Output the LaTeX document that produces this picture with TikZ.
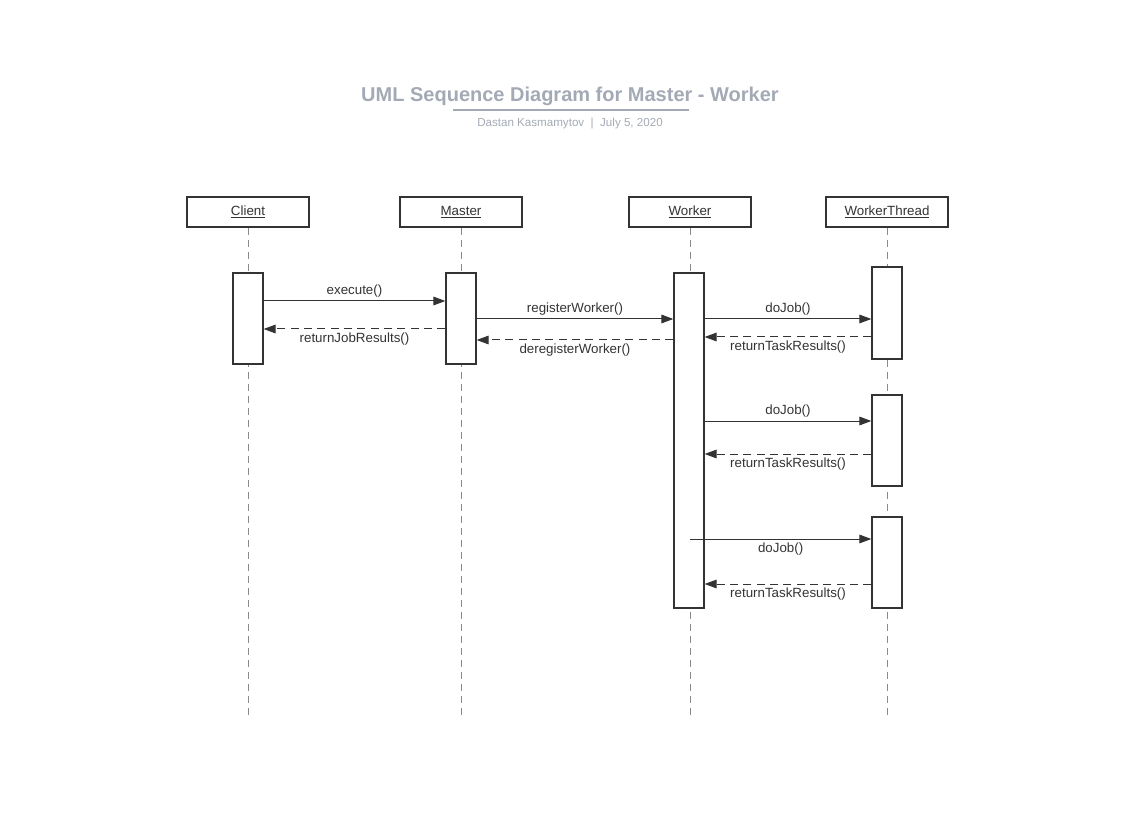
\documentclass[tikz,border=0pt]{standalone}
\usepackage{fontspec}
\setmainfont{Liberation Sans}
\usepackage{xcolor}
\usepackage{tikz}
\usetikzlibrary{positioning,arrows.meta}
\definecolor{ink}{HTML}{333333}
\definecolor{lifegray}{HTML}{8A8A8A}
\definecolor{titlegray}{HTML}{A3AAB5}

\begin{document}
\begin{tikzpicture}[x=0.75pt,y=-0.75pt,
    head/.style={rectangle, draw=ink, line width=1pt, fill=white, minimum width=91.5pt, minimum height=22.5pt, font=\fontsize{10}{12}\selectfont, text=ink},
    act/.style={rectangle, draw=ink, line width=1pt, fill=white, minimum width=22.5pt, inner sep=0pt},
    lifeline/.style={draw=lifegray, line width=0.75pt, dash pattern=on 5.5pt off 3.5pt},
    call/.style={draw=ink, line width=0.75pt, -{Triangle[length=9pt,width=6.5pt]}},
    reply/.style={call, dash pattern=on 6pt off 4pt},
    msg/.style={font=\fontsize{10}{12}\selectfont, text=ink, inner sep=2.5pt}]
    \useasboundingbox (0,0) rectangle (1132,834);

    % title
    \node[text=titlegray, font=\bfseries\fontsize{15}{18}\selectfont] (title) at (570,96) {UML Sequence Diagram for Master - Worker};
    \draw[titlegray, line width=0.9pt] (453,110) -- (689,110);
    \node[text=titlegray, font=\fontsize{8.7}{10}\selectfont] (sub) at (570,123.5) {Dastan Kasmamytov \ | \ July 5, 2020};

    % lifelines
    \node[head] (client) at (248,212) {\underline{Client}};
    \node[head] (master) at (461,212) {\underline{Master}};
    \node[head] (worker) at (690,212) {\underline{Worker}};
    \node[head] (thread) at (887,212) {\underline{WorkerThread}};
    \foreach \who in {client,master,worker,thread}
        \draw[lifeline] (\who.south) -- (\who |- 0,715);

    % activations
    \node[act, minimum height=68.25pt] (clientAct) at (248,318.5) {};
    \node[act, minimum height=68.25pt] (masterAct) at (461,318.5) {};
    \node[act, minimum height=251.25pt] (workerAct) at (689,440.5) {};
    \node[act, minimum height=69pt] (threadA) at (887,313) {};
    \node[act, minimum height=68.25pt] (threadB) at (887,440.5) {};
    \node[act, minimum height=68.25pt] (threadC) at (887,562.5) {};

    % messages
    \draw[call] (clientAct.east |- 0,301) -- (masterAct.west |- 0,301) node[msg, midway, above] {execute()};
    \draw[reply] (masterAct.west |- 0,329) -- (clientAct.east |- 0,329) node[msg, midway, below] {returnJobResults()};
    \draw[call] (masterAct.east |- 0,319) -- (workerAct.west |- 0,319) node[msg, midway, above] {registerWorker()};
    \draw[reply] (workerAct.west |- 0,340) -- (masterAct.east |- 0,340) node[msg, midway, below] {deregisterWorker()};

    \draw[call] (workerAct.east |- 0,319) -- (threadA.west |- 0,319) node[msg, midway, above] {doJob()};
    \draw[reply] (threadA.west |- 0,337) -- (workerAct.east |- 0,337) node[msg, midway, below] {returnTaskResults()};
    \draw[call] (workerAct.east |- 0,421) -- (threadB.west |- 0,421) node[msg, midway, above] {doJob()};
    \draw[reply] (threadB.west |- 0,454) -- (workerAct.east |- 0,454) node[msg, midway, below] {returnTaskResults()};
    \draw[call] (worker |- 0,539) -- (threadC.west |- 0,539) node[msg, midway, below] {doJob()};
    \draw[reply] (threadC.west |- 0,584) -- (workerAct.east |- 0,584) node[msg, midway, below] {returnTaskResults()};
\end{tikzpicture}
\end{document}
